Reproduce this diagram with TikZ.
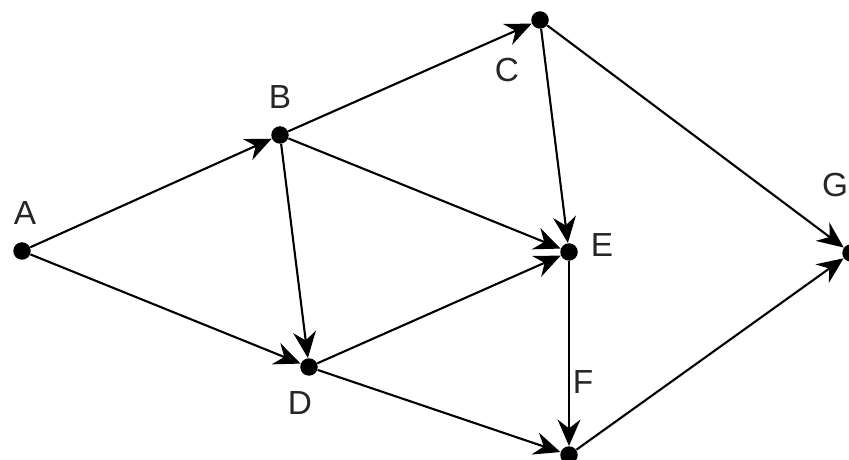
\documentclass[tikz,border=0pt]{standalone}
\usepackage{fontspec}
\setmainfont{Liberation Sans}
\usetikzlibrary{arrows.meta}

\tikzset{
  vtx/.style={circle,fill=black,inner sep=0pt,minimum size=0.35cm},
  lbl/.style={font=\fontsize{19}{21}\selectfont,text=black!85},
  arc/.style={line width=1.2pt,-{Stealth[length=15pt,width=13pt,inset=5pt]}}
}

\begin{document}
\begin{tikzpicture}[x=0.02cm,y=0.02cm]
\useasboundingbox (0,0) rectangle (849,460);
\node[vtx] (A) at (22,209) {};
\node[vtx] (B) at (280,325) {};
\node[vtx] (C) at (540,440) {};
\node[vtx] (D) at (309,93) {};
\node[vtx] (E) at (569,208) {};
\node[vtx] (F) at (569,5) {};
\node[vtx] (G) at (851,207) {};
\node[lbl] (lA) at (25,247) {A};
\node[lbl] (lB) at (280,363) {B};
\node[lbl] (lC) at (507,390) {C};
\node[lbl] (lD) at (300,57) {D};
\node[lbl] (lE) at (602,215) {E};
\node[lbl] (lF) at (583,78) {F};
\node[lbl] (lG) at (835,275) {G};
\draw[arc] (A) -- (B);
\draw[arc] (A) -- (D);
\draw[arc] (B) -- (C);
\draw[arc] (B) -- (E);
\draw[arc] (B) -- (D);
\draw[arc] (C) -- (E);
\draw[arc] (C) -- (G);
\draw[arc] (D) -- (E);
\draw[arc] (D) -- (F);
\draw[arc] (E) -- (F);
\draw[arc] (F) -- (G);
\end{tikzpicture}
\end{document}
